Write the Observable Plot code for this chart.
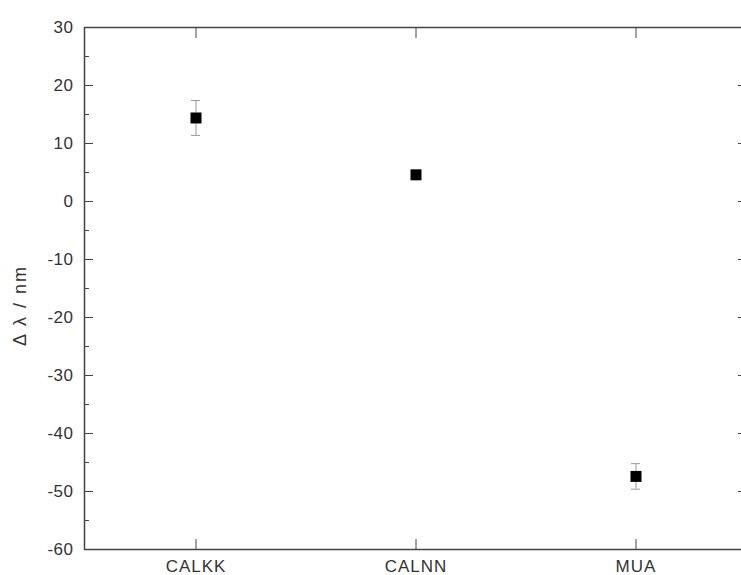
<!DOCTYPE html>
<html>
<head>
<meta charset="utf-8">
<script src="https://cdn.jsdelivr.net/npm/d3@7"></script>
<script src="https://cdn.jsdelivr.net/npm/@observablehq/plot@0.6"></script>
<style>
  html, body { margin: 0; padding: 0; background: white; overflow: hidden; }
  .xlab text { letter-spacing: 1px; }
  .ylab text { letter-spacing: 0.5px; }
  .ytitle text { letter-spacing: 2px; }
</style>
</head>
<body>
<div id="chart"></div>
<script>
const categories = ["CALKK", "CALNN", "MUA"];
const values = [14.4, 4.6, -47.4];
const errors = [3.0, 0.7, 2.2];
const majorTicks = [-60, -50, -40, -30, -20, -10, 0, 10, 20, 30];
const minorTicks = [-55, -45, -35, -25, -15, -5, 5, 15, 25];
const yLabel = "Δ λ / nm";

const data = categories.map((name, i) => ({
  name, value: values[i], lo: values[i] - errors[i], hi: values[i] + errors[i]
}));

const axisColor = "#444";

const chart = Plot.plot({
  width: 741,
  height: 575,
  marginLeft: 84,
  marginRight: -5,
  marginTop: 27,
  marginBottom: 26,
  style: { fontFamily: "'Liberation Sans', Arial, sans-serif", fontSize: "17px", color: "#333", background: "white" },
  x: { domain: categories, type: "band", paddingInner: 0.96, paddingOuter: 0.48, label: null },
  y: { domain: [-60, 30], label: null },
  marks: [
    // inward ticks
    Plot.axisY({ ticks: majorTicks, tickSize: -9, fill: "none", label: null, stroke: axisColor }),
    Plot.axisY({ ticks: minorTicks, tickSize: -5, fill: "none", label: null, stroke: axisColor }),
    Plot.axisY({ anchor: "right", ticks: majorTicks, tickSize: -9, fill: "none", label: null, stroke: axisColor }),
    Plot.axisY({ anchor: "right", ticks: minorTicks, tickSize: -5, fill: "none", label: null, stroke: axisColor }),
    Plot.axisX({ anchor: "bottom", tickSize: -10, fill: "none", label: null, stroke: axisColor }),
    Plot.axisX({ anchor: "top", tickSize: -10, fill: "none", label: null, stroke: axisColor }),
    // labels
    Plot.axisY({ ticks: majorTicks, tickSize: 0, tickPadding: 11, label: null, fill: "#333", fontSize: 17, tickFormat: d => String(d), className: "ylab" }),
    Plot.axisX({ anchor: "bottom", tickSize: 0, tickPadding: 10, label: null, fill: "#333", fontSize: 17, className: "xlab" }),
    Plot.text([yLabel], { frameAnchor: "left", textAnchor: "middle", dx: -64, dy: 17, rotate: -90, fontSize: 18, fill: "#333", className: "ytitle" }),
    Plot.frame({ stroke: axisColor, strokeWidth: 1.5 }),
    // error bars
    Plot.ruleX(data, { x: "name", y1: "lo", y2: "hi", stroke: "#999", strokeWidth: 1 }),
    Plot.tickY(data, { x: "name", y: "hi", stroke: "#999", strokeWidth: 1 }),
    Plot.tickY(data, { x: "name", y: "lo", stroke: "#999", strokeWidth: 1 }),
    Plot.dot(data, { x: "name", y: "value", symbol: "square", r: 6.2, fill: "black", stroke: null })
  ]
});
document.getElementById("chart").append(chart);
</script>
</body>
</html>
